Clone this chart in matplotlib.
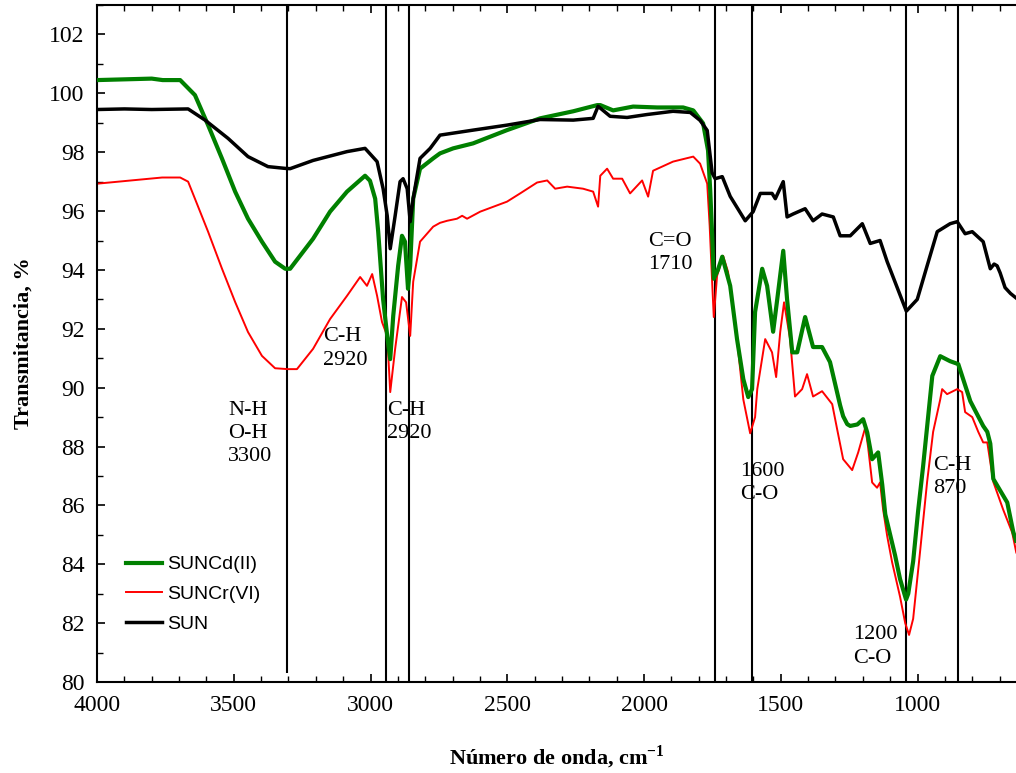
import matplotlib
matplotlib.use('Agg')
import matplotlib.pyplot as plt
from matplotlib.ticker import MultipleLocator

plt.rcParams['font.family'] = ['Liberation Serif', 'DejaVu Serif']
plt.rcParams['mathtext.fontset'] = 'custom'
plt.rcParams['mathtext.rm'] = 'Liberation Serif'
plt.rcParams['mathtext.bf'] = 'Liberation Serif:bold'

# SUN (black)
sun_x = [4000, 3900, 3800, 3667, 3605, 3521, 3448, 3375, 3312, 3294, 3210, 3086, 3020,
         2976, 2954, 2939, 2928, 2910, 2892, 2881, 2866, 2855, 2844, 2819, 2782, 2746,
         2625, 2501, 2380, 2259, 2186, 2168, 2124, 2062, 1989, 1894, 1831, 1795, 1769,
         1751, 1740, 1714, 1685, 1630, 1601, 1575, 1532, 1520, 1491, 1477, 1455, 1411,
         1382, 1349, 1308, 1283, 1246, 1202, 1173, 1137, 1111, 1041, 1001, 965, 928,
         881, 855, 826, 800, 760, 734, 720, 709, 698, 680, 660, 640]
sun_y = [99.45, 99.47, 99.45, 99.47, 99.09, 98.47, 97.85, 97.51, 97.45, 97.44, 97.72,
         98.02, 98.13, 97.68, 96.76, 95.84, 94.72, 95.84, 97.0, 97.1, 96.76, 95.64,
         96.42, 97.79, 98.13, 98.58, 98.75, 98.92, 99.11, 99.09, 99.15, 99.56, 99.22,
         99.18, 99.28, 99.39, 99.35, 99.08, 98.74, 97.3, 97.1, 97.17, 96.5, 95.67,
         95.98, 96.6, 96.6, 96.42, 97.0, 95.8, 95.9, 96.08, 95.67, 95.9, 95.8, 95.16,
         95.16, 95.57, 94.9, 95.0, 94.28, 92.6, 93.0, 94.14, 95.3, 95.57, 95.64, 95.23,
         95.3, 94.96, 94.04, 94.2, 94.14, 93.9, 93.4, 93.2, 93.05]

# SUNCd(II) (green)
cd_x = [4000, 3800, 3760, 3696, 3642, 3594, 3543, 3495, 3448, 3397, 3349, 3312, 3294,
        3210, 3148, 3086, 3020, 3002, 2983, 2972, 2954, 2939, 2928, 2917, 2899, 2885,
        2874, 2863, 2855, 2844, 2819, 2771, 2746, 2698, 2625, 2501, 2380, 2259, 2171,
        2160, 2113, 2040, 1952, 1857, 1820, 1784, 1766, 1758, 1751, 1745, 1730, 1714,
        1685, 1660, 1637, 1619, 1605, 1594, 1568, 1550, 1528, 1513, 1491, 1477, 1458,
        1440, 1411, 1382, 1349, 1320, 1283, 1272, 1257, 1246, 1220, 1199, 1184, 1166,
        1144, 1129, 1118, 1100, 1082, 1064, 1042, 1034, 1016, 998, 980, 957, 946, 917,
        881, 851, 837, 807, 760, 745, 734, 723, 672, 650, 640]
cd_y = [100.45, 100.5, 100.45, 100.45, 99.94, 98.92, 97.78, 96.66, 95.74, 94.96, 94.28,
        94.04, 94.04, 95.06, 95.98, 96.66, 97.2, 97.03, 96.42, 95.3, 93.0, 91.76, 90.97,
        92.44, 94.14, 95.16, 94.96, 93.36, 94.14, 96.42, 97.44, 97.79, 97.96, 98.13,
        98.3, 98.75, 99.15, 99.39, 99.6, 99.6, 99.42, 99.55, 99.52, 99.52, 99.42, 98.98,
        98.06, 96.7, 95.2, 93.7, 94.0, 94.45, 93.46, 91.65, 90.29, 89.68, 89.95, 92.57,
        94.04, 93.46, 91.9, 93.0, 94.65, 93.0, 91.2, 91.2, 92.4, 91.38, 91.38, 90.87,
        89.4, 89.03, 88.76, 88.7, 88.75, 88.93, 88.48, 87.57, 87.8, 86.7, 85.7, 85.0,
        84.3, 83.5, 82.8, 83.0, 84.1, 85.8, 87.3, 89.4, 90.4, 91.07, 90.9, 90.8, 90.4,
        89.54, 88.7, 88.5, 88.1, 86.9, 86.1, 85.1, 84.8]

# SUNCr(VI) (red)
cr_x = [4000, 3887, 3762, 3696, 3667, 3642, 3594, 3543, 3495, 3448, 3397, 3349, 3302,
        3269, 3210, 3148, 3086, 3038, 3013, 2994, 2976, 2958, 2939, 2928, 2910, 2885,
        2870, 2855, 2844, 2819, 2771, 2746, 2720, 2684, 2665, 2647, 2599, 2501, 2453,
        2391, 2354, 2325, 2281, 2223, 2186, 2168, 2160, 2135, 2113, 2080, 2051, 2007,
        1985, 1967, 1894, 1820, 1795, 1769, 1760, 1751, 1745, 1733, 1711, 1693, 1660,
        1637, 1612, 1594, 1586, 1557, 1532, 1517, 1502, 1488, 1466, 1448, 1422, 1404,
        1382, 1349, 1312, 1294, 1272, 1239, 1217, 1191, 1181, 1166, 1148, 1137, 1126,
        1111, 1093, 1064, 1045, 1031, 1016, 990, 965, 943, 917, 910, 892, 855, 837, 826,
        800, 778, 760, 745, 723, 687, 654, 639]
cr_y = [96.93, 97.03, 97.14, 97.14, 97.0, 96.42, 95.3, 94.04, 92.91, 91.89, 91.08,
        90.66, 90.63, 90.63, 91.32, 92.33, 93.12, 93.76, 93.46, 93.86, 93.12, 92.23,
        91.76, 89.85, 91.32, 93.08, 92.9, 91.76, 93.6, 94.96, 95.47, 95.6, 95.67, 95.74,
        95.84, 95.74, 95.98, 96.32, 96.6, 96.97, 97.04, 96.76, 96.83, 96.76, 96.66,
        96.15, 97.2, 97.44, 97.1, 97.1, 96.6, 97.04, 96.49, 97.37, 97.68, 97.85, 97.61,
        96.93, 95.5, 93.6, 92.4, 93.8, 94.48, 93.94, 91.65, 89.6, 88.45, 89.0, 89.95,
        91.65, 91.2, 90.36, 91.9, 92.9, 91.65, 89.7, 89.95, 90.46, 89.7, 89.88, 89.44,
        88.59, 87.57, 87.2, 87.8, 88.65, 88.0, 86.78, 86.6, 86.78, 85.87, 84.96, 84.07,
        82.9, 82.0, 81.6, 82.15, 84.5, 86.8, 88.5, 89.6, 89.95, 89.78, 89.95, 89.85,
        89.17, 89.0, 88.5, 88.14, 88.14, 86.8, 85.86, 85.08, 84.4]

band_x = [3305, 2943, 2859, 1740, 1605, 1041, 851]

notes = ['N-H\nO-H\n3300', 'C-H\n2920', 'C-H\n2920', 'C=O\n1710',
         '1600\nC-O', '1200\nC-O', 'C-H\n870']
note_x = [3521, 3174, 2939, 1985, 1648, 1235, 943]
note_y = [88.45, 91.33, 88.84, 94.58, 86.76, 81.21, 86.97]

fig = plt.figure(figsize=(10.16, 7.73), dpi=100)
ax = fig.add_axes([0.0955, 0.1177, 0.9045, 0.8758])

for i, bx in enumerate(band_x):
    low = 80.3 if i == 0 else 80
    ax.vlines(bx, low, 103, color='black', lw=1.5, zorder=1)

l_cd, = ax.plot(cd_x, cd_y, color='#008000', lw=3.0, label='SUNCd(II)', zorder=3)
l_cr, = ax.plot(cr_x, cr_y, color='#ff0000', lw=1.4, label='SUNCr(VI)', zorder=2)
l_sun, = ax.plot(sun_x, sun_y, color='black', lw=2.5, label='SUN', zorder=4)

for txt, tx, ty in zip(notes, note_x, note_y):
    ax.text(tx, ty, txt, fontsize=16, ha='left', va='center', linespacing=1.3)

ax.set_xlim(4000, 640)
ax.set_ylim(80, 103)
ax.xaxis.set_major_locator(MultipleLocator(500))
ax.xaxis.set_minor_locator(MultipleLocator(100))
ax.yaxis.set_major_locator(MultipleLocator(2))
ax.yaxis.set_minor_locator(MultipleLocator(1))
ax.tick_params(which='both', direction='in', top=True, right=False, labelsize=17, pad=9)
ax.tick_params(which='major', length=6, width=1.2)
ax.tick_params(which='minor', length=4, width=1.0)
ax.spines['right'].set_visible(False)
for s in ['left', 'bottom', 'top']:
    ax.spines[s].set_linewidth(1.5)

ax.set_xlabel(r'Número de onda, cm$^{\mathbf{-1}}$', fontsize=16, fontweight='bold', labelpad=20)
ax.set_ylabel('Transmitancia, %', fontsize=16, fontweight='bold', labelpad=11)

leg = ax.legend(handles=[l_cd, l_cr, l_sun], loc='lower left', bbox_to_anchor=(0.013, 0.047),
                frameon=False, handlelength=1.85, handletextpad=0.25, labelspacing=0.62,
                prop={'family': 'Liberation Sans', 'size': 14})

fig.savefig('out.png', dpi=100)
